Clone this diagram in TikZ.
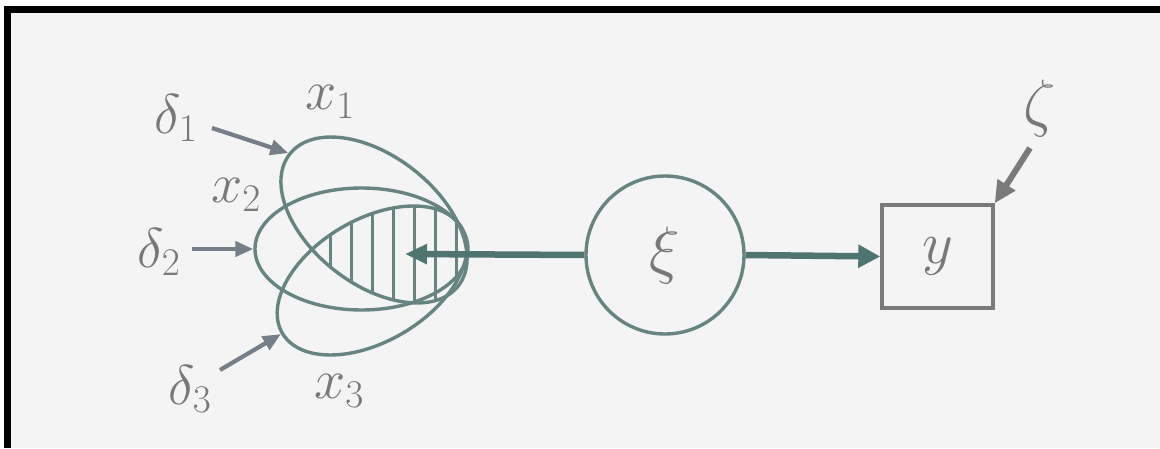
\documentclass[tikz,border=0pt]{standalone}
\usepackage{fix-cm}
\usetikzlibrary{arrows.meta,shapes.geometric}
\definecolor{bg}{RGB}{244,244,244}
\definecolor{ln}{RGB}{104,132,128}
\definecolor{hv}{RGB}{80,116,112}
\definecolor{tx}{RGB}{120,120,120}
\definecolor{ar}{RGB}{118,126,136}
\definecolor{bx}{RGB}{122,122,122}
\tikzset{
  lbl/.style={text=tx, inner sep=0pt, font=\fontsize{56}{56}\selectfont},
  ell/.style={draw=ln, line width=3.4pt, ellipse, inner sep=0pt},
  hatchln/.style={draw=ln, line width=3pt},
  heavy/.style={draw=hv, line width=6.5pt},
  inarrow/.style={draw=ar, line width=4.2pt, -{Triangle[length=18pt,width=15pt]}},
  zarrow/.style={draw=bx, line width=6pt, -{Triangle[length=22pt,width=20pt]}}
}
\begin{document}
\begin{tikzpicture}[x=1pt,y=1pt]
\useasboundingbox (0,0) rectangle (1160,448);
\fill[white] (0,0) rectangle (1160,448);
\fill[black] (4,0) rectangle (11,442);
\fill[black] (4,435) rectangle (1160,442);
\fill[bg] (11,0) rectangle (1160,435);

% hatched overlap of x1 and x3
\begin{scope}
  \clip[rotate around={-38:(374,228)}] (374,228) ellipse [x radius=107pt, y radius=64pt];
  \clip[rotate around={30.5:(372,167.5)}] (372,167.5) ellipse [x radius=104pt, y radius=61pt];
  \foreach \hx in {330,351,...,456} \draw[hatchln] (\hx,100) -- (\hx,300);
\end{scope}

% ellipses
\node[ell, rotate=-38, minimum width=214pt, minimum height=128pt] (x1e) at (374,228) {};
\node[ell, minimum width=213pt, minimum height=122pt] (x2e) at (361.5,199) {};
\node[ell, rotate=30.5, minimum width=208pt, minimum height=122pt] (x3e) at (372,167.5) {};

% xi and y
\node[draw=ln, line width=3.4pt, circle, minimum size=158pt, inner sep=0pt,
      text=tx, font=\fontsize{64}{64}\selectfont] (xi) at (665,193) {$\xi$};
\node[draw=bx, line width=3.4pt, rectangle, minimum width=111pt, minimum height=103pt,
      inner sep=0pt, text=tx, font=\fontsize{60}{60}\selectfont] (ybox) at (937.5,191.5) {$y$};

% labels
\node[lbl] (d1) at (176,330) {$\delta_{1}$};
\node[lbl] (l1) at (330,346) {$x_{1}$};
\node[lbl] (l2) at (236,253) {$x_{2}$};
\node[lbl] (d2) at (159,196) {$\delta_{2}$};
\node[lbl] (d3) at (190,59) {$\delta_{3}$};
\node[lbl] (l3) at (339,57) {$x_{3}$};
\node[lbl, font=\fontsize{64}{64}\selectfont] (zeta) at (1040,339) {$\zeta$};

% connectors
\coordinate (d1s) at (212,320);
\coordinate (d2s) at (192,199);
\coordinate (d3s) at (220,78);
\coordinate (zs) at (1030,300);
\coordinate (tip) at (405,194);
\draw[inarrow] (d1s) -- (x1e.west);
\draw[inarrow] (d2s) -- (x2e.west);
\draw[inarrow] (d3s) -- (x3e.west);
\draw[heavy, -{Triangle[length=22pt,width=19pt]}] (xi.west) -- (tip);
\draw[heavy, -{Triangle[length=22pt,width=22pt]}] (xi.east) -- (ybox.west);
\draw[zarrow] (zs) -- (ybox.north east);
\end{tikzpicture}
\end{document}
